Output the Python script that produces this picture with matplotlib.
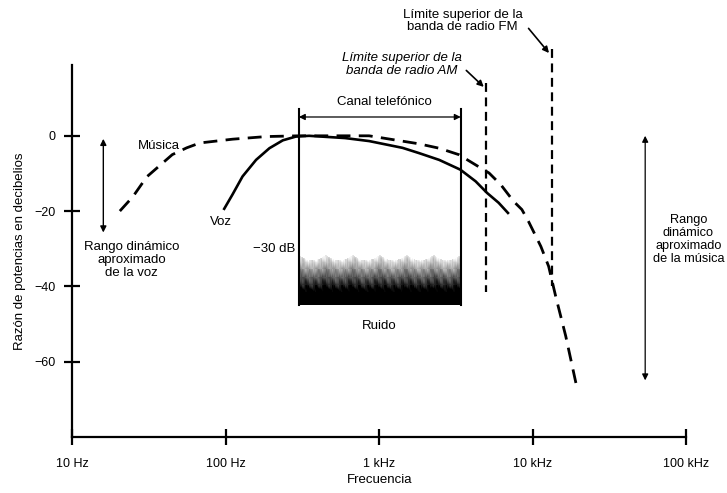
import numpy as np
import matplotlib
matplotlib.use("Agg")
import matplotlib.pyplot as plt

plt.rcParams['font.family'] = ['Liberation Sans', 'DejaVu Sans']

# curves (Hz, dB)
music_freq = [20.5, 24.9, 30.7, 45, 55.8, 68, 111, 184, 300, 860, 1800, 2460,
              3300, 4400, 5200, 6200, 7500, 8500, 9400, 11300, 12700, 14100,
              16400, 19300]
music_db = [-20, -16.2, -10.9, -5.0, -3.2, -1.9, -0.9, -0.2, 0, 0, -2.1, -3.3,
            -5.0, -8.1, -9.9, -13.0, -17.4, -19.6, -22.8, -29.4, -34.7, -42.6,
            -53.2, -66.5]

voice_freq = [98, 111, 129, 158, 193, 236, 287, 350, 600, 861, 1420, 1820,
              2460, 3380, 4250, 5050, 6000, 6900]
voice_db = [-19.4, -15.6, -10.8, -6.4, -3.3, -1.2, -0.2, 0, -0.6, -1.4, -3.2, -4.6,
            -6.4, -9.0, -12.1, -15.2, -17.8, -20.5]

# telephone channel and noise floor
channel_lo, channel_hi = 300, 3400
noise_top, noise_bottom = -32.5, -45

# upper band limits (Hz) and their vertical extent (dB)
am_limit, am_top, am_bottom = 5000, 14, -41.5
fm_limit, fm_top, fm_bottom = 13300, 23, -40

xticks = [10, 100, 1000, 10000, 100000]
xtick_labels = ['10 Hz', '100 Hz', '1 kHz', '10 kHz', '100 kHz']
yticks = [0, -20, -40, -60]
ytick_labels = ['0', '\u221220', '\u221240', '\u221260']

fs = 9.5

fig = plt.figure(figsize=(7.27, 4.93), dpi=100)
ax = fig.add_axes([0.099, 0.114, 0.845, 0.754])
ax.set_xscale('log')
ax.set_xlim(10, 100000)
ax.set_ylim(-80, 18.8)

for s in ['top', 'right']:
    ax.spines[s].set_visible(False)
for s in ['left', 'bottom']:
    ax.spines[s].set_linewidth(1.6)

ax.set_xticks(xticks)
ax.set_xticklabels(xtick_labels)
ax.xaxis.set_minor_locator(matplotlib.ticker.NullLocator())
ax.set_yticks(yticks)
ax.set_yticklabels(ytick_labels)
ax.tick_params(direction='inout', length=12, width=1.6, labelsize=9)
ax.tick_params(axis='x', pad=9)
ax.tick_params(axis='y', pad=6)

ax.set_xlabel('Frecuencia', fontsize=fs)
ax.xaxis.set_label_coords(0.5, -0.1)
ax.set_ylabel('Razón de potencias en decibelios', fontsize=fs, labelpad=6)

# noise floor: gray gradient with scalloped top edge
nx = np.logspace(np.log10(channel_lo), np.log10(channel_hi), 400)
ny = np.linspace(noise_bottom, noise_top + 1.0, 160)
X, Y = np.meshgrid(nx, ny)
u = np.log10(X / channel_lo) / np.log10(channel_hi / channel_lo)
edge = noise_top - 1.4 * np.abs(np.sin(u * 6 * np.pi)) + 0.8
depth = (edge - Y) / (edge - noise_bottom)
grain = 0.07 * np.sin(u * 900) * np.sin(Y * 23) + 0.05 * np.sin(u * 37 * np.pi + Y * 1.3)
shade = np.clip(0.92 - 1.4 * depth + grain, 0, 1)
shade = np.where(Y > edge, 1.0, shade)
ax.pcolormesh(X, Y, shade, cmap='gray', vmin=0, vmax=1, shading='auto', zorder=1)

# telephone channel box
ax.plot([channel_lo, channel_lo], [noise_bottom, 7], color='black', lw=1.5, zorder=3)
ax.plot([channel_hi, channel_hi], [noise_bottom, 7], color='black', lw=1.5, zorder=3)
ax.annotate('', xy=(channel_lo, 5), xytext=(channel_hi, 5),
            arrowprops=dict(arrowstyle='<|-|>', color='black', lw=0.9,
                            mutation_scale=9, shrinkA=0, shrinkB=0))
ax.text(1080, 7.4, 'Canal telefónico', ha='center', va='bottom', fontsize=fs)
ax.text(1000, -49, 'Ruido', ha='center', va='top', fontsize=fs)
ax.text(285, -30, '\u221230 dB', ha='right', va='center', fontsize=fs)

# curves
ax.plot(music_freq, music_db, color='black', lw=2.0, dashes=(5, 3), zorder=4)
ax.plot(voice_freq, voice_db, color='black', lw=1.9, zorder=4)
ax.text(37, -2.6, 'Música', ha='center', va='center', fontsize=fs,
        bbox=dict(facecolor='white', edgecolor='none', pad=0.5), zorder=5)
ax.text(93, -22.8, 'Voz', ha='center', va='center', fontsize=fs)

# radio band limits
ax.plot([am_limit, am_limit], [am_top, am_bottom], color='black', lw=1.6,
        dashes=(4, 2.5), clip_on=False, zorder=4)
ax.plot([fm_limit, fm_limit], [fm_top, fm_bottom], color='black', lw=1.6,
        dashes=(4, 2.5), clip_on=False, zorder=4)
ax.annotate('Límite superior de la\nbanda de radio AM', xy=(am_limit * 0.96, am_top - 1),
            xytext=(1400, 19), ha='center', va='center', fontsize=fs, style='italic',
            annotation_clip=False, linespacing=1.05,
            arrowprops=dict(arrowstyle='-|>', color='black', lw=1.2, mutation_scale=9,
                            shrinkA=0, shrinkB=0, relpos=(1.04, 0.25)))
ax.annotate('Límite superior de la\nbanda de radio FM', xy=(fm_limit * 0.96, fm_top - 1),
            xytext=(3500, 30.5), ha='center', va='center', fontsize=fs,
            annotation_clip=False, linespacing=1.05,
            arrowprops=dict(arrowstyle='-|>', color='black', lw=1.2, mutation_scale=9,
                            shrinkA=0, shrinkB=0, relpos=(1.05, 0.2)))

# dynamic ranges
ax.annotate('', xy=(16, -0.8), xytext=(16, -25.7),
            arrowprops=dict(arrowstyle='<|-|>', color='black', lw=1.0,
                            mutation_scale=9, shrinkA=0, shrinkB=0))
ax.text(24.5, -33, 'Rango dinámico\naproximado\nde la voz', ha='center', va='center',
        fontsize=fs, linespacing=1.1)
ax.annotate('', xy=(54000, 0), xytext=(54000, -65),
            arrowprops=dict(arrowstyle='<|-|>', color='black', lw=0.9,
                            mutation_scale=9, shrinkA=0, shrinkB=0))
ax.text(103000, -27.5, 'Rango\ndinámico\naproximado\nde la música', ha='center',
        va='center', fontsize=9.2, linespacing=1.1, clip_on=False)

fig.savefig('out.png', dpi=100)
